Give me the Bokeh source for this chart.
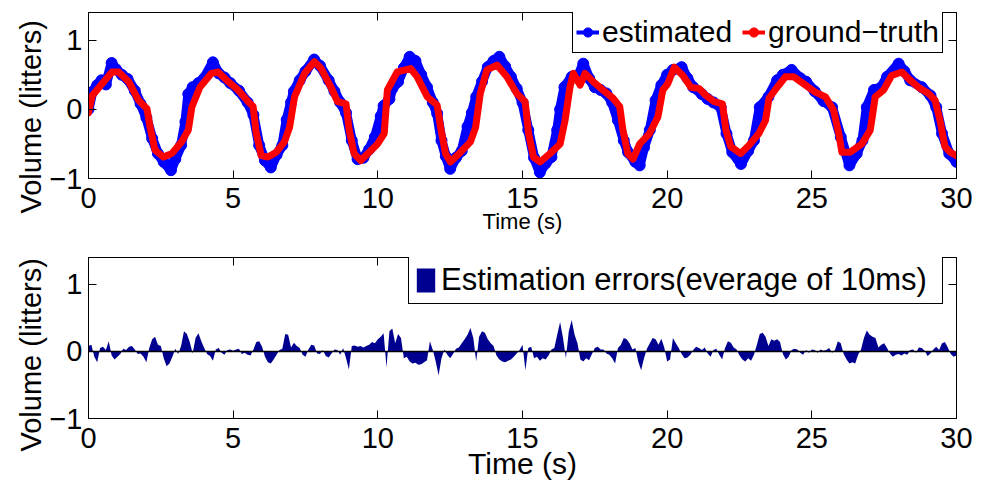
import numpy as np
from bokeh.plotting import figure
from bokeh.models import (Legend, LegendItem, LinearAxis, FixedTicker, Range1d, Title, Span)
from bokeh.layouts import column
from bokeh.embed import file_html
from bokeh.resources import INLINE

# ---------------- data ----------------
gt_t = [0.0, 0.13, 0.47, 0.81, 1.04, 1.39, 1.73, 2.02, 2.13, 2.30, 2.59, 2.88, 3.22, 3.45, 3.57,
        3.85, 4.25, 4.48, 4.83, 5.17, 5.52, 5.69, 5.80, 5.97, 6.20, 6.49, 6.77, 6.95, 7.12, 7.47,
        7.81, 8.04, 8.38, 8.61, 8.90, 9.01, 9.18, 9.41, 9.70, 9.99, 10.22, 10.33, 10.67, 11.13,
        11.36, 11.71, 12.05, 12.17, 12.34, 12.51, 12.86, 13.20, 13.38, 13.54, 13.77, 14.12, 14.46,
        14.80, 15.09, 15.21, 15.38, 15.61, 15.95, 16.30, 16.47, 16.64, 16.76, 16.99, 17.16, 17.44,
        17.78, 18.13, 18.36, 18.47, 18.64, 18.82, 19.05, 19.39, 19.68, 19.85, 20.02, 20.25, 20.54,
        20.82, 21.11, 21.34, 21.63, 21.91, 22.03, 22.20, 22.54, 22.83, 23.17, 23.40, 23.52, 23.80,
        24.09, 24.38, 24.78, 25.12, 25.47, 25.75, 25.93, 26.04, 26.33, 26.73, 27.02, 27.19, 27.48,
        27.76, 28.11, 28.40, 28.68, 29.03, 29.26, 29.43, 29.60, 29.78, 30.0]
gt_v = [-0.05, 0.20, 0.37, 0.54, 0.54, 0.40, 0.13, 0.01, -0.26, -0.59, -0.69, -0.64, -0.47, -0.30, 0.03,
        0.32, 0.52, 0.54, 0.40, 0.28, 0.11, 0.04, -0.35, -0.67, -0.69, -0.62, -0.47, -0.26, 0.18, 0.52,
        0.69, 0.59, 0.32, 0.11, 0.08, -0.30, -0.64, -0.74, -0.62, -0.50, -0.35, 0.28, 0.54, 0.59,
        0.47, 0.18, 0.06, -0.26, -0.64, -0.76, -0.62, -0.47, -0.26, 0.23, 0.57, 0.64, 0.47,
        0.23, 0.11, -0.35, -0.69, -0.76, -0.64, -0.50, -0.16, 0.32, 0.52, 0.35, 0.52, 0.40,
        0.28, 0.16, 0.04, -0.30, -0.64, -0.72, -0.50, -0.35, -0.11, 0.28, 0.37, 0.61, 0.49,
        0.32, 0.30, 0.20, 0.11, 0.08, -0.30, -0.54, -0.64, -0.52, -0.35, -0.16, 0.16, 0.32,
        0.47, 0.47, 0.35, 0.25, 0.18, -0.01, -0.35, -0.62, -0.62, -0.50, -0.30, 0.18, 0.28,
        0.49, 0.54, 0.42, 0.32, 0.23, 0.13, -0.16, -0.54, -0.62, -0.67]

est_t = [0.0, 0.13, 0.3, 0.45, 0.6, 0.8, 0.95, 1.15, 1.35, 1.6, 1.8, 2.0, 2.2, 2.4, 2.6, 2.85, 3.0,
         3.2, 3.35, 3.45, 3.6, 3.8, 4.0, 4.3, 4.5, 4.7, 4.9, 5.2, 5.5, 5.7, 5.9, 6.1, 6.3, 6.5, 6.7,
         6.85, 7.0, 7.1, 7.3, 7.5, 7.8, 8.0, 8.3, 8.5, 8.7, 8.9, 9.1, 9.3, 9.5, 9.7, 9.9, 10.1, 10.2,
         10.4, 10.5, 10.7, 10.9, 11.1, 11.3, 11.5, 11.7, 11.9, 12.05, 12.2, 12.35, 12.5, 12.7, 12.9,
         13.1, 13.25, 13.4, 13.6, 13.8, 14.0, 14.2, 14.4, 14.6, 14.8, 15.0, 15.2, 15.4, 15.6, 15.8,
         16.0, 16.2, 16.3, 16.45, 16.7, 16.9, 17.1, 17.3, 17.5, 17.7, 17.9, 18.1, 18.3, 18.5, 18.65,
         18.9, 19.05, 19.2, 19.4, 19.6, 19.8, 20.0, 20.2, 20.5, 20.7, 20.9, 21.2, 21.4, 21.6, 21.85,
         22.05, 22.25, 22.55, 22.8, 23.0, 23.2, 23.5, 23.8, 24.0, 24.3, 24.6, 24.8, 25.1, 25.4, 25.7,
         26.0, 26.3, 26.55, 26.75, 26.9, 27.15, 27.4, 27.6, 28.0, 28.2, 28.4, 28.8, 29.1, 29.3, 29.5,
         29.75, 30.0]
est_v = [0.00, 0.25, 0.35, 0.42, 0.36, 0.67, 0.58, 0.50, 0.44, 0.27, 0.08, -0.12, -0.42, -0.64, -0.76, -0.88, -0.72,
         -0.52, -0.18, 0.22, 0.32, 0.38, 0.45, 0.68, 0.52, 0.46, 0.38, 0.27, 0.10, -0.08, -0.52, -0.74, -0.84, -0.66, -0.52,
         -0.15, 0.10, 0.26, 0.42, 0.55, 0.72, 0.63, 0.42, 0.26, 0.10, -0.05, -0.45, -0.72, -0.70, -0.58, -0.40, -0.10, 0.05,
         0.15, 0.30, 0.40, 0.60, 0.76, 0.70, 0.50, 0.32, 0.10, -0.06, -0.45, -0.68, -0.86, -0.70, -0.60,
         -0.25, -0.05, 0.18, 0.40, 0.61, 0.70, 0.76, 0.62, 0.47, 0.30, 0.10, -0.30, -0.70, -0.91, -0.78,
         -0.69, -0.30, 0.00, 0.32, 0.47, 0.45, 0.66, 0.45, 0.32, 0.28, 0.23, 0.10, -0.16, -0.45, -0.62,
         -0.76, -0.81, -0.55, -0.30, 0.13, 0.35, 0.50, 0.57, 0.61, 0.45, 0.32, 0.22, 0.15, 0.10, 0.03,
         -0.35, -0.62, -0.79, -0.60, -0.45, 0.03, 0.18, 0.42, 0.50, 0.57, 0.45, 0.40, 0.26, 0.12, 0.03,
         -0.40, -0.81, -0.64, -0.45, 0.03, 0.28, 0.32, 0.47, 0.66, 0.55, 0.42, 0.32, 0.20, 0.03, -0.35,
         -0.64, -0.76]

ERR_STEP = 0.1
err_v = [
    0.08, 0.10, -0.08, -0.16, 0.05, 0.07, 0.02, 0.15, -0.06, -0.12,
    -0.08, -0.04, 0.04, 0.02, 0.07, 0.08, 0.03, -0.04, -0.03, -0.08,
    -0.16, 0.05, 0.18, 0.22, 0.10, 0.08, -0.10, -0.22, -0.18, -0.08,
    0.04, -0.04, 0.08, 0.30, 0.26, 0.14, -0.03, 0.20, 0.27, 0.15,
    0.05, -0.04, -0.07, -0.14, 0.03, 0.05, -0.02, -0.05, 0.02, 0.03,
    0.01, 0.03, 0.04, -0.04, -0.02, -0.05, -0.06, 0.03, 0.14, 0.15,
    0.07, -0.08, -0.16, -0.18, -0.12, -0.05, 0.02, 0.04, 0.26, 0.25,
    0.06, 0.13, 0.08, 0.05, -0.05, -0.08, 0.03, 0.10, 0.09, -0.03,
    -0.04, 0.02, -0.07, -0.09, -0.03, 0.03, 0.02, -0.05, 0.05, -0.10,
    -0.27, 0.08, 0.09, 0.07, 0.08, 0.06, 0.08, 0.10, 0.14, 0.12,
    0.18, 0.22, 0.27, -0.24, 0.30, 0.34, 0.12, 0.26, 0.20, -0.10,
    -0.08, -0.15, -0.18, -0.17, -0.20, -0.19, -0.16, -0.13, 0.15, 0.02,
    -0.15, -0.36, -0.10, 0.03, -0.05, -0.10, -0.04, 0.04, 0.06, 0.12,
    0.18, 0.25, 0.35, 0.20, -0.15, 0.22, 0.30, 0.28, 0.18, 0.12,
    0.08, -0.06, -0.12, -0.15, -0.16, -0.14, -0.12, -0.08, -0.03, 0.02,
    0.10, -0.28, 0.05, 0.07, -0.10, -0.08, -0.14, -0.10, -0.12, -0.06,
    0.03, 0.05, 0.25, 0.44, 0.20, -0.10, 0.30, 0.47, 0.25, 0.12,
    -0.12, -0.15, -0.10, -0.13, -0.04, 0.05, 0.07, 0.03, 0.03, -0.03,
    -0.05, -0.10, -0.18, 0.05, 0.10, 0.20, 0.18, 0.12, 0.03, 0.05,
    -0.15, -0.28, -0.10, 0.04, 0.12, 0.20, 0.18, 0.10, 0.19, 0.06,
    -0.15, -0.12, 0.20, 0.12, 0.05, -0.04, -0.10, -0.09, -0.05, 0.02,
    0.07, 0.05, 0.02, 0.06, -0.03, -0.08, 0.02, 0.04, -0.05, -0.12,
    0.05, 0.15, 0.13, 0.06, 0.03, -0.06, -0.12, -0.15, -0.10, -0.14,
    -0.05, 0.10, 0.26, 0.28, 0.22, 0.08, 0.18, 0.16, 0.18, 0.14,
    -0.04, -0.12, -0.08, 0.02, 0.04, 0.03, -0.02, -0.05, 0.02, -0.02,
    0.03, 0.02, -0.02, 0.03, 0.01, 0.02, 0.05, -0.02, 0.02, 0.15,
    0.12, -0.04, -0.12, -0.18, -0.16, -0.18, -0.05, 0.03, 0.20, 0.31,
    0.25, 0.22, 0.20, 0.06, 0.10, 0.12, 0.05, -0.03, -0.08, -0.05,
    -0.04, -0.06, -0.03, -0.05, 0.02, 0.03, -0.02, 0.06, 0.05, 0.01,
    -0.07, -0.03, 0.03, 0.07, 0.02, 0.12, 0.14, 0.06, -0.04, -0.08,
    -0.06,
]
err_t = [round(i * ERR_STEP, 1) for i in range(len(err_v))]

x_ticks = [0, 5, 10, 15, 20, 25, 30]
y_ticks = [-1, 0, 1]
y_tick_labels = {-1: "\u22121", 0: "0", 1: "1"}
x_tick_labels = {v: str(v) for v in x_ticks}

FONT = "Liberation Sans"
BLUE = "#0000FF"
RED = "#FF0000"
NAVY = "#000090"
NAN = [float("nan")]  # placeholder data for legend-only renderers


def style_axes(p, xlabel, xlabel_size, xlabel_standoff, ylabel_offset):
    p.xaxis.axis_label = xlabel
    for ax in p.xaxis + p.yaxis:
        ax.major_tick_in = 8
        ax.major_tick_out = 0
        ax.minor_tick_line_color = None
        ax.axis_line_color = "black"
        ax.axis_line_width = 1
        ax.major_tick_line_color = "black"
        ax.major_label_text_font = FONT
        ax.major_label_text_font_size = "29px"
        ax.major_label_text_color = "black"
        ax.axis_label_text_font = FONT
        ax.axis_label_text_font_style = "normal"
        ax.axis_label_text_color = "black"
    p.xaxis.ticker = FixedTicker(ticks=x_ticks)
    p.xaxis.major_label_overrides = x_tick_labels
    p.yaxis.ticker = FixedTicker(ticks=y_ticks)
    p.yaxis.major_label_overrides = y_tick_labels
    p.xaxis.major_label_standoff = 9
    p.yaxis.major_label_standoff = 6
    p.xaxis.axis_label_text_font_size = xlabel_size
    p.xaxis.axis_label_standoff = xlabel_standoff
    # mirrored box axes (ticks only, no labels)
    top = LinearAxis(ticker=FixedTicker(ticks=x_ticks), major_label_text_color=None,
                     major_tick_in=8, major_tick_out=0, minor_tick_line_color=None,
                     major_label_standoff=0, axis_line_color="black")
    right = LinearAxis(ticker=FixedTicker(ticks=y_ticks), major_label_text_color=None,
                       major_tick_in=8, major_tick_out=0, minor_tick_line_color=None,
                       major_label_standoff=0, axis_line_color="black")
    p.add_layout(top, "above")
    p.add_layout(right, "right")
    # y label as a left title, starting below the frame like the reference
    p.add_layout(Title(text="Volume (litters)", align="left", offset=ylabel_offset,
                       text_font=FONT, text_font_size="29px", text_font_style="normal",
                       text_color="black", standoff=0), "left")
    p.xgrid.grid_line_color = None
    p.ygrid.grid_line_color = None
    p.outline_line_color = "black"
    p.background_fill_color = "white"
    p.border_fill_color = "white"


def style_legend(leg):
    leg.label_text_font = FONT
    leg.label_text_color = "black"
    leg.border_line_color = "black"
    leg.border_line_alpha = 1
    leg.border_line_width = 1
    leg.background_fill_color = "white"
    leg.background_fill_alpha = 1
    leg.margin = 0


# ---------------- top figure ----------------
p1 = figure(width=981, height=240, output_backend="svg", toolbar_location=None,
            x_range=Range1d(0, 30), y_range=Range1d(-1, 1.4),
            min_border_left=88, min_border_right=21, min_border_top=12, min_border_bottom=62)
style_axes(p1, "Time (s)", "22px", -2, -35)

p1.line(est_t, est_v, line_color=BLUE, line_width=10, line_join="round")
p1.scatter(est_t, est_v, size=11, fill_color=BLUE, line_color=BLUE)
p1.line(gt_t, gt_v, line_color=RED, line_width=7, line_join="round", line_cap="round")

# legend-only glyphs (thinner, as in the legend of the reference)
le_l = p1.line(NAN, NAN, line_color=BLUE, line_width=4)
le_s = p1.scatter(NAN, NAN, size=9, fill_color=BLUE, line_color=BLUE)
lg_l = p1.line(NAN, NAN, line_color=RED, line_width=4)
lg_s = p1.scatter(NAN, NAN, size=9, fill_color=RED, line_color=RED)

leg1 = Legend(items=[LegendItem(label="estimated", renderers=[le_l, le_s]),
                     LegendItem(label="ground\u2212truth", renderers=[lg_l, lg_s])],
              orientation="horizontal", location=(484, 125),
              label_text_font_size="30px",
              glyph_width=23, glyph_height=30, label_standoff=3, spacing=10, padding=3)
style_legend(leg1)
p1.add_layout(leg1, "center")

# ---------------- bottom figure ----------------
p2 = figure(width=981, height=247, output_backend="svg", toolbar_location=None,
            x_range=Range1d(0, 30), y_range=Range1d(-1, 1.4),
            min_border_left=85, min_border_right=25, min_border_top=17, min_border_bottom=69)
style_axes(p2, "Time (s)", "30px", -4, -33)

er = p2.varea(x=err_t, y1=0, y2=err_v, fill_color=NAVY)
p2.add_layout(Span(location=0, dimension="width", line_color="black", line_width=1.5))

leg2 = Legend(items=[LegendItem(label="Estimation errors(everage of 10ms)", renderers=[er])],
              location=(320, 114),
              label_text_font_size="31px",
              glyph_width=23, glyph_height=30, label_standoff=4, label_width=496, padding=5)
style_legend(leg2)
p2.add_layout(leg2, "center")

layout = column(p1, p2, spacing=0)
open("out.html", "w").write(file_html(layout, INLINE))
